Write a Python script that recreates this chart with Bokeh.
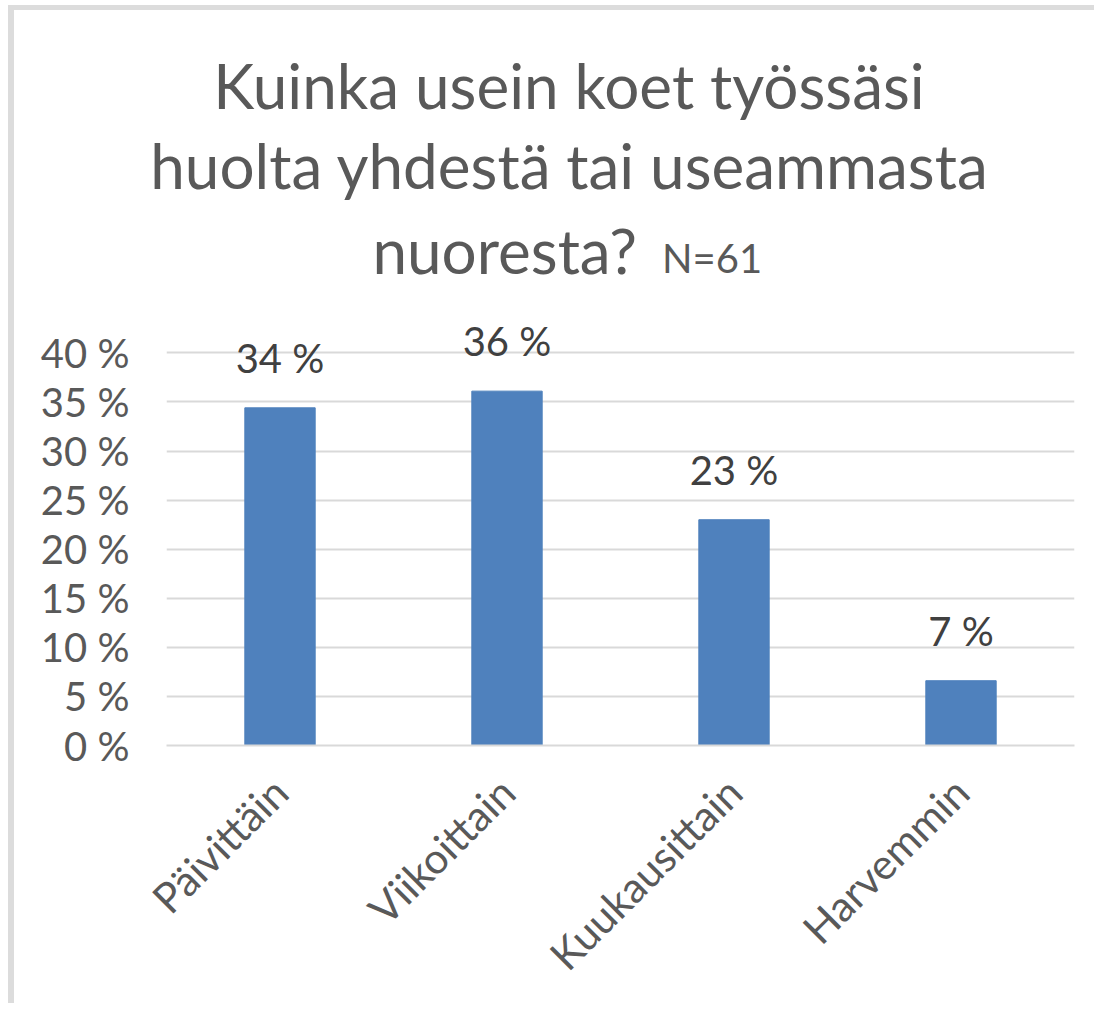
import math
from bokeh.plotting import figure
from bokeh.models import (ColumnDataSource, FactorRange, Range1d, FixedTicker,
                          LabelSet, CustomJSTickFormatter, Div)
from bokeh.layouts import column
from bokeh.core.properties import value
from bokeh.embed import file_html
from bokeh.resources import INLINE

# ---- data ----
categories = ["Päivittäin", "Viikoittain", "Kuukausittain", "Harvemmin"]
shares = [34.4, 36.1, 23.0, 6.6]          # percent of respondents, N=61
y_ticks = [0, 5, 10, 15, 20, 25, 30, 35, 40]
title_lines = ["Kuinka usein koet työssäsi", "huolta yhdestä tai useammasta", "nuoresta?"]
title_note = "N=61"

FONT = "Lato"
GREY = "#595959"

W = 1080
TITLE_H = 308
CHART_H = 685

# ---- title block (real text, three centred lines, small N note) ----
common = (f"position:absolute;white-space:nowrap;font-family:{FONT};color:{GREY};"
          "font-weight:normal;")
title_html = (
    f'<div style="position:relative;width:{W}px;height:{TITLE_H}px;">'
    f'<div style="{common}left:0;width:1110px;top:44px;text-align:center;'
    f'font-size:62px;line-height:62px;">{title_lines[0]}</div>'
    f'<div style="{common}left:0;width:1110px;top:124px;text-align:center;'
    f'font-size:62px;line-height:62px;">{title_lines[1]}</div>'
    f'<div style="{common}left:0;width:623px;top:209px;text-align:right;'
    f'font-size:62px;line-height:62px;">{title_lines[2]}</div>'
    f'<div style="{common}left:648px;top:228px;text-align:left;'
    f'font-size:40px;line-height:40px;">{title_note}</div>'
    '</div>'
)
title_div = Div(text=title_html, width=W, height=TITLE_H, margin=(0, 0, 0, 0))

# ---- bar chart ----
src = ColumnDataSource(dict(cat=categories, val=shares,
                            lab=[f"{round(v)} %" for v in shares]))
p = figure(width=W, height=CHART_H, x_range=FactorRange(*categories, range_padding=0),
           y_range=Range1d(0, 43.5), output_backend="svg", toolbar_location=None,
           min_border_left=152, min_border_right=20, min_border_top=0,
           min_border_bottom=258, title=None)
p.outline_line_color = None
p.vbar(x="cat", top="val", width=0.31, source=src, fill_color="#4F81BD",
       line_color="#4F81BD")
p.add_layout(LabelSet(x="cat", y="val", text="lab", source=src, y_offset=50,
                      text_align="center", text_baseline="middle",
                      text_font=value(FONT), text_font_size="40px",
                      text_color="#404040"))

p.yaxis.ticker = FixedTicker(ticks=y_ticks)
p.yaxis.formatter = CustomJSTickFormatter(code="return tick + ' %';")
p.yaxis.axis_line_color = None
p.yaxis.major_tick_line_color = None
p.yaxis.minor_tick_line_color = None
p.yaxis.major_label_standoff = 31
p.yaxis.major_label_text_font = FONT
p.yaxis.major_label_text_font_size = "40px"
p.yaxis.major_label_text_color = GREY

p.xaxis.axis_line_color = "#d9d9d9"
p.xaxis.axis_line_width = 2
p.xaxis.major_tick_line_color = None
p.xaxis.minor_tick_line_color = None
p.xaxis.major_label_orientation = math.pi / 4
p.xaxis.major_label_standoff = 33
p.xaxis.major_label_text_font = FONT
p.xaxis.major_label_text_font_size = "42px"
p.xaxis.major_label_text_color = GREY

p.xgrid.grid_line_color = None
p.ygrid.ticker = FixedTicker(ticks=y_ticks)
p.ygrid.grid_line_color = "#d9d9d9"
p.ygrid.grid_line_width = 2

layout = column(title_div, p, spacing=0, width=W + 6, height=TITLE_H + CHART_H + 5,
                styles={"border-style": "solid none none solid",
                        "border-color": "#dcdcdc",
                        "border-width": "5px 0px 0px 6px",
                        "margin-left": "8px", "margin-top": "5px"})

open("out.html", "w").write(file_html(layout, INLINE))
